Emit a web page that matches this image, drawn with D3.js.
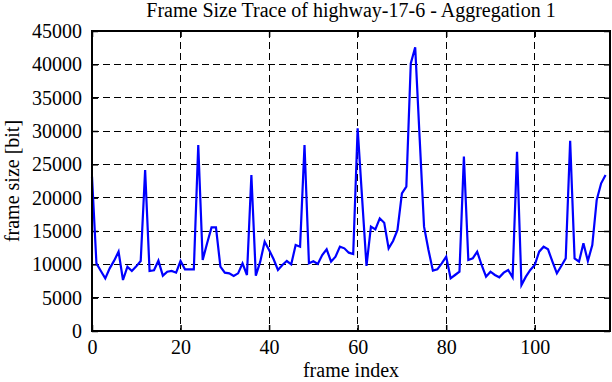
<!DOCTYPE html>
<html>
<head>
<meta charset="utf-8">
<script src="https://cdn.jsdelivr.net/npm/d3@7"></script>
<style>
  html, body { margin: 0; padding: 0; background: #fff; }
  svg { display: block; }
  svg text { font-family: "Liberation Serif", "Times New Roman", serif !important; fill: #000; }
</style>
</head>
<body>
<svg id="chart" width="612" height="382"></svg>
<script>
// ---- data ----
const titleText = "Frame Size Trace of highway-17-6 - Aggregation 1";
const xLabel = "frame index";
const yLabel = "frame size [bit]";
const xTicks = [0, 20, 40, 60, 80, 100];
const yTicks = [0, 5000, 10000, 15000, 20000, 25000, 30000, 35000, 40000, 45000];
const frameSizes = [
  23150, 10150, 9000, 7900, 9400, 10550, 11900, 7650, 9650, 9000,
  9700, 10500, 24150, 9000, 9100, 10550, 8300, 8900, 9000, 8750,
  10500, 9250, 9250, 9250, 27900, 10650, 13150, 15550, 15550, 9650,
  8750, 8650, 8250, 8650, 10150, 8400, 23400, 8300, 10400, 13400,
  12150, 10800, 9150, 9900, 10500, 10000, 12900, 12650, 27900, 10150,
  10450, 10050, 11400, 12250, 10400, 11150, 12650, 12400, 11750, 11550,
  30400, 20000, 9750, 15650, 15250, 16900, 16250, 12400, 13500, 15150,
  20650, 21650, 40150, 42550, 29000, 15650, 12150, 9050, 9250, 10150,
  11150, 7900, 8400, 8900, 26150, 10650, 10900, 11900, 9900, 8150,
  8900, 8400, 8050, 8750, 9150, 8050, 26900, 6900, 8150, 9150,
  9900, 11900, 12650, 12250, 10400, 8650, 9750, 10900, 28550, 10900,
  10400, 13150, 10500, 12900, 19650, 22150, 23400
];
const frameIndex = frameSizes.map((_, i) => i);

// ---- layout ----
const pL = 92, pR = 610, pT = 31, pB = 331;
const FONT = "'Liberation Serif', 'Times New Roman', serif";
const svg = d3.select("#chart");

const x = d3.scaleLinear().domain([0, 117]).range([pL, pR]);
const y = d3.scaleLinear().domain([0, 45000]).range([pB, pT]);

// grid
const grid = svg.append("g").attr("stroke", "#000").attr("stroke-width", 1)
  .attr("stroke-dasharray", "7,4").attr("shape-rendering", "crispEdges");
grid.selectAll("line.gx").data(xTicks.filter(d => d > 0)).enter().append("line")
  .attr("class", "gx")
  .attr("x1", d => x(d)).attr("x2", d => x(d)).attr("y1", pT).attr("y2", pB);
grid.selectAll("line.gy").data(yTicks.filter(d => d > 0 && d < 45000)).enter().append("line")
  .attr("class", "gy")
  .attr("y1", d => y(d)).attr("y2", d => y(d)).attr("x1", pL).attr("x2", pR);

// axes with inward ticks
const axB = svg.append("g").attr("transform", `translate(0,${pB})`)
  .call(d3.axisBottom(x).tickValues(xTicks).tickSize(-6).tickPadding(9).tickFormat(d3.format("d")));
const axT = svg.append("g").attr("transform", `translate(0,${pT})`)
  .call(d3.axisTop(x).tickValues(xTicks).tickSize(-6).tickFormat(""));
const axL = svg.append("g").attr("transform", `translate(${pL},0)`)
  .call(d3.axisLeft(y).tickValues(yTicks).tickSize(-6).tickPadding(10).tickFormat(d3.format("d")));
const axR = svg.append("g").attr("transform", `translate(${pR},0)`)
  .call(d3.axisRight(y).tickValues(yTicks).tickSize(-6).tickFormat(""));
[axB, axT, axL, axR].forEach(g => {
  g.attr("font-family", FONT).attr("font-size", 20);
  g.select(".domain").remove();
  g.selectAll(".tick line").attr("stroke", "#000").attr("stroke-width", 1.5);
  g.selectAll("text").style("font-family", FONT).style("font-size", "20px").attr("fill", "#000");
});

// data line
const line = d3.line().x((d, i) => x(frameIndex[i])).y(d => y(d));
svg.append("path").datum(frameSizes)
  .attr("d", line).attr("fill", "none").attr("stroke", "#0000ff").attr("stroke-width", 2.2);

// frame
svg.append("rect").attr("x", pL).attr("y", pT).attr("width", pR - pL).attr("height", pB - pT)
  .attr("fill", "none").attr("stroke", "#000").attr("stroke-width", 2);

// titles
svg.append("text").attr("x", (pL + pR) / 2).attr("y", 17).attr("text-anchor", "middle")
  .style("font-family", FONT).style("font-size", "20px").text(titleText);
svg.append("text").attr("x", (pL + pR) / 2).attr("y", 377).attr("text-anchor", "middle")
  .style("font-family", FONT).style("font-size", "20px").text(xLabel);
svg.append("text").attr("transform", `translate(19,${(pT + pB) / 2}) rotate(-90)`)
  .attr("text-anchor", "middle").style("font-family", FONT).style("font-size", "20px").text(yLabel);
</script>
</body>
</html>
